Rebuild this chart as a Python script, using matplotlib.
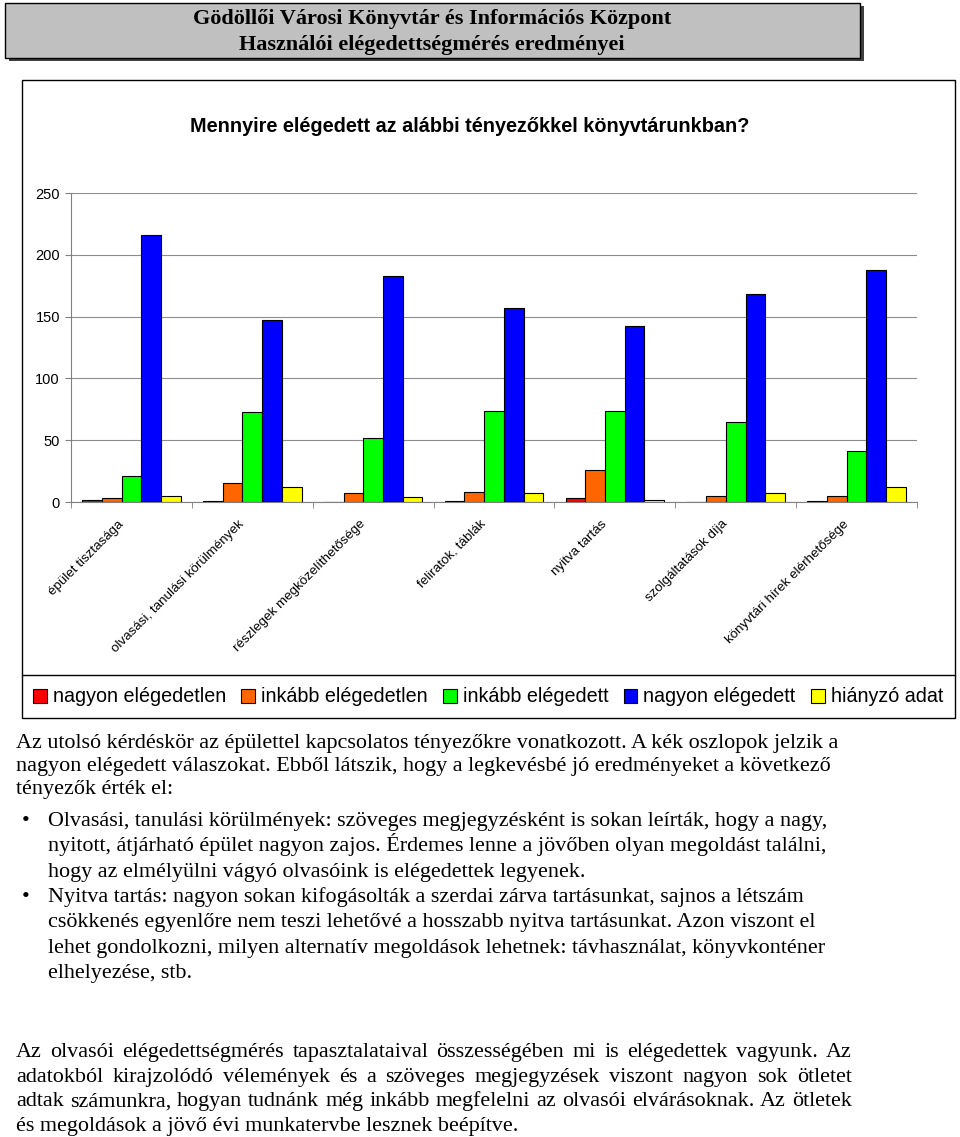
import matplotlib
matplotlib.use("Agg")
import matplotlib.pyplot as plt
import numpy as np
from matplotlib.patches import Rectangle, Patch
from matplotlib.lines import Line2D
from matplotlib.transforms import ScaledTranslation

# --- data ---
categories = ["épület tisztasága", "olvasási, tanulási körülmények",
              "részlegek megközelíthetősége", "feliratok, táblák",
              "nyitva tartás", "szolgáltatások díja",
              "könyvtári hírek elérhetősége"]
series_names = ["nagyon elégedetlen", "inkább elégedetlen", "inkább elégedett",
                "nagyon elégedett", "hiányzó adat"]
nagyon_elegedetlen = [2, 1, 0, 1, 3, 0, 1]
inkabb_elegedetlen = [3, 15, 7, 8, 26, 5, 5]
inkabb_elegedett = [21, 73, 52, 74, 74, 65, 41]
nagyon_elegedett = [216, 147, 183, 157, 142, 168, 188]
hianyzo_adat = [5, 12, 4, 7, 1.5, 7, 12]
colors = ["#FF0000", "#FF6600", "#00FF00", "#0000FF", "#FFFF00"]
yticks = [0, 50, 100, 150, 200, 250]

header_lines = ["Gödöllői Városi Könyvtár és Információs Központ",
                "Használói elégedettségmérés eredményei"]
chart_title = "Mennyire elégedett az alábbi tényezőkkel könyvtárunkban?"
intro_lines = ["Az utolsó kérdéskör az épülettel kapcsolatos tényezőkre vonatkozott. A kék oszlopok jelzik a",
               "nagyon elégedett válaszokat. Ebből látszik, hogy a legkevésbé jó eredményeket a következő",
               "tényezők érték el:"]
bullets = [["Olvasási, tanulási körülmények: szöveges megjegyzésként is sokan leírták, hogy a nagy,",
            "nyitott, átjárható épület nagyon zajos. Érdemes lenne a jövőben olyan megoldást találni,",
            "hogy az elmélyülni vágyó olvasóink is elégedettek legyenek."],
           ["Nyitva tartás: nagyon sokan kifogásolták a szerdai zárva tartásunkat, sajnos a létszám",
            "csökkenés egyenlőre nem teszi lehetővé a hosszabb nyitva tartásunkat. Azon viszont el",
            "lehet gondolkozni, milyen alternatív megoldások lehetnek: távhasználat, könyvkonténer",
            "elhelyezése, stb."]]
closing_lines = ["Az olvasói elégedettségmérés tapasztalataival összességében mi is elégedettek vagyunk. Az",
                 "adatokból kirajzolódó vélemények és a szöveges megjegyzések viszont nagyon sok ötletet",
                 "adtak számunkra, hogyan tudnánk még inkább megfelelni az olvasói elvárásoknak. Az ötletek",
                 "és megoldások a jövő évi munkatervbe lesznek beépítve."]

W, H = 960, 1137
fig = plt.figure(figsize=(W / 100, H / 100), dpi=100)


def px(x, y):
    return x / W, 1 - y / H


SERIF = "Liberation Serif"
SANS = "Liberation Sans"

# header box with shadow
fig.patches.append(Rectangle(px(9, 61), 855 / W, 55 / H, transform=fig.transFigure,
                             facecolor="#404040", edgecolor="none", zorder=-2))
fig.patches.append(Rectangle(px(5, 58), 855 / W, 55 / H, transform=fig.transFigure,
                             facecolor="#c0c0c0", edgecolor="black", lw=1, zorder=-1))
for i, line in enumerate(header_lines):
    fig.text(*px(432, 19 + 26 * i), line, ha="center", va="center",
             family=SERIF, fontsize=16, weight="bold")

# chart frame + legend frame
fig.patches.append(Rectangle(px(22, 718), 933 / W, 638 / H, transform=fig.transFigure,
                             facecolor="none", edgecolor="black", lw=1, zorder=-1))
fig.lines.append(Line2D([22 / W, 955 / W], [1 - 675 / H] * 2, transform=fig.transFigure,
                        color="black", lw=1))

fig.text(*px(470, 127), chart_title, ha="center", va="center",
         family=SANS, fontsize=14.3, weight="bold")

ax = fig.add_axes([71 / W, 1 - 502 / H, 846 / W, 309 / H])
ax.set_facecolor("none")
data = [nagyon_elegedetlen, inkabb_elegedetlen, inkabb_elegedett, nagyon_elegedett, hianyzo_adat]
x = np.arange(len(categories))
w = 0.163
for i, (vals, c) in enumerate(zip(data, colors)):
    ax.bar(x + (i - 2) * w, vals, w, color=c, edgecolor="black", lw=0.8, zorder=3)

ax.set_xlim(-0.5, len(categories) - 0.5)
ax.set_ylim(0, 250)
ax.set_yticks(yticks)
ax.set_yticklabels([str(v) for v in yticks], family=SANS, fontsize=10.5)
ax.yaxis.grid(True, color="#8c8c8c", lw=0.8, zorder=0)

# category labels, rotated; anchored slightly left of each group centre
ax.set_xticks([])
lbl_tr = ax.get_xaxis_transform() + ScaledTranslation(-0.14, -0.16, fig.dpi_scale_trans)
for xi, name in zip(x, categories):
    ax.text(xi, 0, name, transform=lbl_tr, rotation=45, ha="right", va="top",
            rotation_mode="anchor", family=SANS, fontsize=9.6)
ax.set_xticks(np.arange(-0.5, len(categories)), minor=True)
ax.tick_params(axis="x", which="minor", length=4, color="#808080")
ax.tick_params(axis="y", length=4, color="#808080", pad=4)
for s in ["top", "right"]:
    ax.spines[s].set_visible(False)
for s in ["left", "bottom"]:
    ax.spines[s].set_color("#808080")

handles = [Patch(facecolor=c, edgecolor="black", lw=0.8) for c in colors]
fig.legend(handles, series_names, loc="center", bbox_to_anchor=px(488, 697), ncol=5,
           frameon=False, prop={"family": SANS, "size": 14.2}, handlelength=0.7,
           handleheight=0.7, handletextpad=0.3, columnspacing=0.78)

# body text (positions are baselines)
BODY = dict(family=SERIF, fontsize=15.9, va="baseline")
for i, line in enumerate(intro_lines):
    fig.text(*px(16, 748 + 23 * i), line, **BODY)
k = 0
for item in bullets:
    for j, line in enumerate(item):
        y = 826 + 25.3 * k
        if j == 0:
            fig.text(*px(22, y), "•", **BODY)
        fig.text(*px(48, y), line, **BODY)
        k += 1

# justified closing paragraph
renderer = fig.canvas.get_renderer()
left, right = 16, 852
for i, line in enumerate(closing_lines):
    y = 1057 + 24.7 * i
    if i == len(closing_lines) - 1:
        fig.text(*px(left, y), line, **BODY)
        continue
    words = line.split(" ")
    texts = [fig.text(0, 0, wd, **BODY) for wd in words]
    widths = [t.get_window_extent(renderer).width for t in texts]
    gap = (right - left - sum(widths)) / (len(words) - 1)
    cx = left
    for t, wd in zip(texts, widths):
        t.set_position(px(cx, y))
        cx += wd + gap

fig.savefig("out.png", dpi=100)
